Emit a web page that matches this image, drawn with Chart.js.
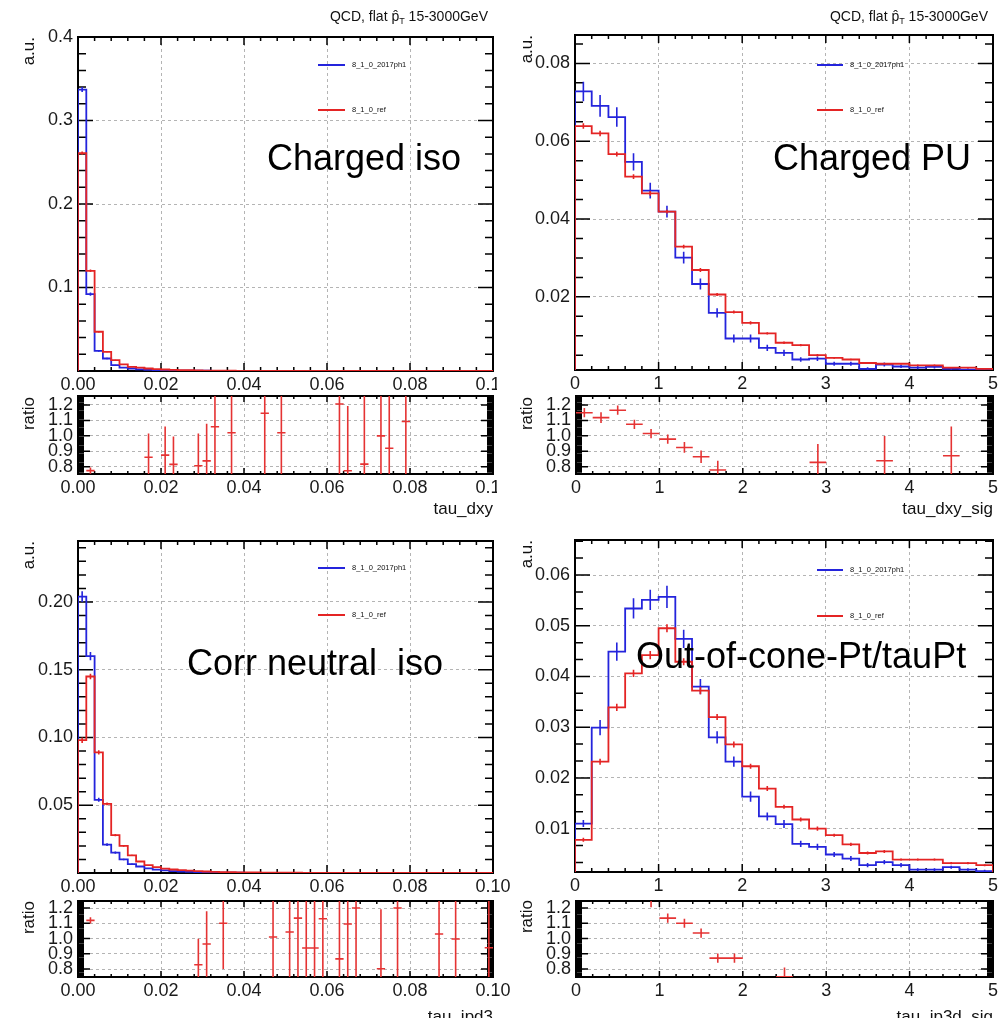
<!DOCTYPE html>
<html><head><meta charset="utf-8">
<script src="https://cdn.jsdelivr.net/npm/chart.js@4.4.1/dist/chart.umd.min.js"></script>
<style>
html,body{margin:0;padding:0;background:#fff;}
body{width:1000px;height:1018px;overflow:hidden;position:relative;font-family:"Liberation Sans",Arial,Helvetica,sans-serif;color:#111;}
canvas{position:absolute;z-index:1;}
.t{position:absolute;white-space:pre;line-height:1;z-index:2;}
.big{font-size:36px;color:#000;}
.qcd{font-size:14px;}
.qcd .sub{font-size:9px;position:relative;top:3px;}
.leg{font-size:7.5px;}
.ln{position:absolute;height:2px;z-index:2;}
.vt{position:absolute;writing-mode:vertical-rl;transform:rotate(180deg);font-size:17px;line-height:17px;z-index:2;white-space:pre;}
.xt{font-size:17px;}
</style></head><body>

<div class="t qcd" style="right:512px;top:9px">QCD, flat p&#770;<span class="sub">T</span> 15-3000GeV</div>
<div class="t qcd" style="right:12px;top:9px">QCD, flat p&#770;<span class="sub">T</span> 15-3000GeV</div>

<div class="t big" style="left:267px;top:140px">Charged iso</div>
<div class="t big" style="left:773px;top:140px">Charged PU</div>
<div class="t big" style="left:187px;top:645px">Corr neutral  iso</div>
<div class="t big" style="left:636px;top:638px">Out-of-cone-Pt/tauPt</div>

<div class="vt" style="left:20px;top:37px">a.u.</div>
<div class="vt" style="left:518px;top:35px">a.u.</div>
<div class="vt" style="left:20px;top:541px">a.u.</div>
<div class="vt" style="left:518px;top:540px">a.u.</div>
<div class="vt" style="left:20px;top:397px">ratio</div>
<div class="vt" style="left:518px;top:397px">ratio</div>
<div class="vt" style="left:20px;top:901px">ratio</div>
<div class="vt" style="left:518px;top:900px">ratio</div>

<div class="t xt" style="right:507px;top:500px">tau_dxy</div>
<div class="t xt" style="right:7px;top:500px">tau_dxy_sig</div>
<div class="t xt" style="right:507px;top:1008px">tau_ipd3</div>
<div class="t xt" style="right:7px;top:1008px">tau_ip3d_sig</div>

<script>
// ---------------- data ----------------
const seriesNames = ['8_1_0_2017ph1', '8_1_0_ref'];

// tau_dxy (Charged iso), bins of 0.002 from 0
const dxyStart = 0, dxyStep = 0.002;
const dxyBlue = [0.337,0.092,0.024,0.015,0.007,0.004,0.003,0.002,0.0015,0.0011,
  0.0008,0.0006,0.0005,0.0004,0.0003,0.0003,0.0002,0.0002,0.0002,0.0001,
  0.0001,0.0001,0.0001,0.0001,0.0001,0.00005,0.00005,0.00005,0.00005,0.00005,
  0.00004,0.00004,0.00004,0.00003,0.00003,0.00003,0.00003,0.00002,0.00002,0.00002,
  0.00002,0.00002,0.00002,0.00001,0.00001,0.00001,0.00001,0.00001,0.00001,0.00001];
const dxyRed = [0.261,0.120,0.047,0.023,0.013,0.008,0.005,0.004,0.003,0.0022,
  0.0018,0.0014,0.0011,0.0009,0.0007,0.0005,0.0004,0.0003,0.0003,0.0002,
  0.0002,0.0002,0.0001,0.0001,0.0001,0.0001,0.0001,0.0001,0.00008,0.00008,
  0.00007,0.00006,0.00006,0.00005,0.00005,0.00004,0.00004,0.00004,0.00003,0.00003,
  0.00003,0.00003,0.00002,0.00002,0.00002,0.00002,0.00002,0.00002,0.00002,0.00001];
const dxyBlueErr = [0.003,0.002,0.001,0.0008,0.0005,0.0004,0.0003];
const dxyRedErr = [0.002,0.0015,0.0008,0.0005,0.0004,0.0003];
const dxyRatioX = [0.001,0.003,0.017,0.021,0.023,0.029,0.031,0.033,0.037,0.045,0.049,0.063,0.065,0.069,0.073,0.075,0.079];
const dxyRatioY = [1.29,0.775,0.861,0.875,0.815,0.806,0.838,1.059,1.02,1.146,1.02,1.206,0.774,0.817,1.0,0.92,1.093];
const dxyRatioErr = [0.02,0.02,0.155,0.185,0.18,0.21,0.24,0.6,0.6,0.6,0.6,0.6,0.42,0.6,0.6,0.6,0.6];

// tau_dxy_sig (Charged PU), bins of 0.2 from 0
const sigStart = 0, sigStep = 0.2;
const sigBlue = [0.0728,0.0691,0.0662,0.0547,0.0473,0.0419,0.0301,0.0233,0.0159,0.0093,
  0.0093,0.0069,0.0056,0.0039,0.0041,0.0028,0.0028,0.0015,0.0026,0.0021,
  0.0018,0.0020,0.0015,0.0013,0.0013];
const sigRed = [0.0639,0.0620,0.0567,0.0509,0.0466,0.0419,0.0329,0.0269,0.0206,0.0161,
  0.0133,0.0106,0.0082,0.0076,0.0050,0.0043,0.0039,0.0030,0.0028,0.0028,
  0.0024,0.0024,0.0018,0.0018,0.0015];
const sigBlueErr = [0.0025,0.0028,0.0025,0.0022,0.002,0.0015,0.0015,0.0014,0.0012,0.001,
  0.001,0.0008,0.0008,0.0006,0.0006,0.0005,0.0005,0.0004,0.0005,0.0004,
  0.0004,0.0004,0.0003,0.0003,0.0003];
const sigRedErr = [0.0007,0.0007,0.0006,0.0006,0.0006,0.0005,0.0005,0.0005,0.0004,0.0004,
  0.0004,0.0003,0.0003,0.0003,0.0003,0.0002,0.0002,0.0002,0.0002,0.0002,
  0.0002,0.0002,0.0002,0.0002,0.0002];
const sigRatioX = [0.1,0.3,0.5,0.7,0.9,1.1,1.3,1.5,1.7,2.9,3.7,4.5];
const sigRatioY = [1.15,1.118,1.166,1.075,1.015,0.979,0.925,0.865,0.779,0.828,0.839,0.871];
const sigRatioErr = [0.03,0.035,0.03,0.03,0.03,0.03,0.035,0.04,0.06,0.12,0.16,0.19];

// tau_ipd3 (Corr neutral iso), bins of 0.002 from 0
const ipStart = 0, ipStep = 0.002;
const ipBlue = [0.204,0.160,0.054,0.021,0.015,0.010,0.0066,0.0048,0.0034,0.0025,
  0.0019,0.0014,0.0011,0.0008,0.0006,0.0005,0.0004,0.0003,0.0002,0.0002,
  0.00015,0.00012,0.0001,0.0001,0.00008,0.00006,0.00005,0.00005,0.00004,0.00004,
  0.00003,0.00003,0.00003,0.00002,0.00002,0.00002,0.00002,0.00002,0.00001,0.00001,
  0.00001,0.00001,0.00001,0.00001,0.00001,0.00001,0.00001,0.00001,0.00001,0.00001];
const ipRed = [0.098,0.145,0.089,0.051,0.028,0.020,0.013,0.0085,0.0058,0.0043,
  0.0033,0.0026,0.0021,0.0017,0.0014,0.0011,0.0009,0.0007,0.0006,0.0005,
  0.0004,0.0004,0.0003,0.0003,0.0002,0.0002,0.0002,0.00015,0.00012,0.0001,
  0.0001,0.00008,0.00007,0.00006,0.00005,0.00005,0.00004,0.00004,0.00003,0.00003,
  0.00003,0.00002,0.00002,0.00002,0.00002,0.00002,0.00001,0.00001,0.00001,0.00001];
const ipBlueErr = [0.004,0.003,0.0015,0.001,0.0008,0.0006,0.0005,0.0004];
const ipRedErr = [0.002,0.002,0.0015,0.001,0.0008,0.0006,0.0005,0.0004];
const ipRatioX = [0.003,0.029,0.031,0.035,0.047,0.051,0.053,0.055,0.057,0.059,0.063,0.065,0.067,0.073,0.077,0.087,0.091,0.099];
const ipRatioY = [1.119,0.828,0.964,1.10,1.01,1.043,1.134,0.938,0.938,1.13,0.867,1.095,1.2,0.802,1.2,1.03,0.997,0.94];
const ipRatioErr = [0.02,0.17,0.215,0.3,0.6,0.6,0.6,0.6,0.6,0.6,0.6,0.6,0.6,0.39,0.6,0.6,0.6,0.6];

// tau_ip3d_sig (Out-of-cone-Pt/tauPt), bins of 0.2 from 0
const ip3Start = 0, ip3Step = 0.2;
const ip3Blue = [0.0110,0.0299,0.0449,0.0534,0.0551,0.0557,0.0474,0.0380,0.0280,0.0232,
  0.0163,0.0124,0.0109,0.0070,0.0064,0.0049,0.0041,0.0028,0.0034,0.0028,
  0.0019,0.0019,0.0024,0.0019,0.0016];
const ip3Red = [0.0078,0.0232,0.0339,0.0406,0.0442,0.0495,0.0429,0.0372,0.0320,0.0266,
  0.0223,0.0179,0.0143,0.0118,0.0100,0.0087,0.0069,0.0052,0.0055,0.0039,
  0.0039,0.0039,0.0032,0.0032,0.0028];
const ip3BlueErr = [0.0007,0.0015,0.0018,0.002,0.002,0.0022,0.0018,0.0015,0.0012,0.001,
  0.001,0.0008,0.0008,0.0006,0.0006,0.0005,0.0005,0.0004,0.0004,0.0004,
  0.0003,0.0003,0.0003,0.0003,0.0003];
const ip3RedErr = [0.0004,0.0006,0.0007,0.0007,0.0008,0.0008,0.0007,0.0007,0.0006,0.0006,
  0.0005,0.0005,0.0004,0.0004,0.0004,0.0003,0.0003,0.0003,0.0003,0.0002,
  0.0002,0.0002,0.0002,0.0002,0.0002];
const ip3RatioX = [0.9,1.1,1.3,1.5,1.7,1.9,2.5];
const ip3RatioY = [1.26,1.134,1.10,1.036,0.872,0.872,0.75];
const ip3RatioErr = [0.055,0.03,0.03,0.03,0.03,0.03,0.06];

// tick values / labels
const dxyXTicks = [0,0.02,0.04,0.06,0.08,0.1];
const dxyXLabels = ['0.00','0.02','0.04','0.06','0.08','0.10'];
const sigXTicks = [0,1,2,3,4,5];
const sigXLabels = ['0','1','2','3','4','5'];
const dxyYTicks = [0.1,0.2,0.3,0.4];
const dxyYLabels = ['0.1','0.2','0.3','0.4'];
const sigYTicks = [0.02,0.04,0.06,0.08];
const sigYLabels = ['0.02','0.04','0.06','0.08'];
const ipYTicks = [0.05,0.10,0.15,0.20];
const ipYLabels = ['0.05','0.10','0.15','0.20'];
const ip3YTicks = [0.01,0.02,0.03,0.04,0.05,0.06];
const ip3YLabels = ['0.01','0.02','0.03','0.04','0.05','0.06'];
const ratioYTicks = [0.8,0.9,1.0,1.1,1.2];
const ratioYLabels = ['0.8','0.9','1.0','1.1','1.2'];

// ---------------- drawing ----------------
const BLUE = '#2424dc', RED = '#e42424', RATIO = '#e53333';

const rootFrame = {
  id: 'rootFrame',
  beforeDatasetsDraw(chart, args, o) {
    const {ctx, chartArea: a} = chart;
    const xs = chart.scales.x, ys = chart.scales.y;
    const marks = (scale, majors, sub) => {
      const step = (majors[1] - majors[0]) / sub, out = [];
      const k0 = Math.ceil((scale.min - majors[0]) / step - 1e-6);
      for (let k = k0; majors[0] + k * step <= scale.max + 1e-9; k++) {
        out.push({p: scale.getPixelForValue(majors[0] + k * step), major: ((k % sub) + sub) % sub === 0});
      }
      return out;
    };
    ctx.save();
    ctx.strokeStyle = '#000';
    ctx.lineWidth = o.tickWidth;
    ctx.beginPath();
    for (const m of marks(xs, o.xTicks, o.xSub)) {
      const L = m.major ? o.xMajor : o.xMinor;
      ctx.moveTo(m.p, a.bottom); ctx.lineTo(m.p, a.bottom - L);
      ctx.moveTo(m.p, a.top); ctx.lineTo(m.p, a.top + L);
    }
    for (const m of marks(ys, o.yTicks, o.ySub)) {
      const L = m.major ? o.yMajor : o.yMinor;
      ctx.moveTo(a.left, m.p); ctx.lineTo(a.left + L, m.p);
      ctx.moveTo(a.right, m.p); ctx.lineTo(a.right - L, m.p);
    }
    ctx.stroke();
    ctx.lineWidth = 2;
    ctx.strokeRect(a.left, a.top, a.right - a.left, a.bottom - a.top);
    ctx.restore();
  }
};

function histLine(start, step, vals, color, order) {
  const pts = [{x: start, y: 0}];
  vals.forEach((v, i) => pts.push({x: start + i * step, y: v}));
  pts.push({x: start + vals.length * step, y: vals[vals.length - 1]});
  pts.push({x: start + vals.length * step, y: 0});
  return {data: pts, borderColor: color, borderWidth: 1.8, pointRadius: 0, stepped: true, fill: false, order};
}
function errBars(start, step, vals, errs, color, order) {
  const pts = [];
  errs.forEach((e, i) => {
    if (!e) return;
    const c = start + (i + 0.5) * step;
    pts.push({x: c, y: vals[i] - e}, {x: c, y: vals[i] + e}, {x: c, y: null});
  });
  return {data: pts, borderColor: color, borderWidth: 1.6, pointRadius: 0, fill: false, spanGaps: false, order};
}
function ratioSet(xs, ys, es, step) {
  const pts = [];
  xs.forEach((c, i) => {
    pts.push({x: c - step / 2, y: ys[i]}, {x: c + step / 2, y: ys[i]}, {x: c, y: null},
             {x: c, y: ys[i] - es[i]}, {x: c, y: ys[i] + es[i]}, {x: c, y: null});
  });
  return {data: pts, borderColor: RATIO, borderWidth: 1.6, pointRadius: 0, fill: false, spanGaps: false};
}

function makeChart(p) {
  const cv = document.createElement('canvas');
  const W = p.right - p.left + p.padL + p.padR;
  const H = p.bottom - p.top + p.padT + p.padB;
  cv.width = W; cv.height = H;
  cv.style.left = (p.left - p.padL) + 'px';
  cv.style.top = (p.top - p.padT) + 'px';
  cv.style.width = W + 'px'; cv.style.height = H + 'px';
  document.body.appendChild(cv);
  const font = {family: '"Liberation Sans", Arial, sans-serif', size: p.fontSize || 18};
  new Chart(cv.getContext('2d'), {
    type: 'line',
    data: {datasets: p.datasets},
    plugins: [rootFrame],
    options: {
      responsive: false, animation: false, devicePixelRatio: 1,
      layout: {padding: {left: 0, top: p.padT, right: p.padR, bottom: 0}},
      events: [],
      plugins: {
        legend: {display: false}, tooltip: {enabled: false},
        rootFrame: {xTicks: p.xTicks, yTicks: p.yTicks, xSub: p.xSub, ySub: p.ySub,
          xMajor: p.xMajor, xMinor: p.xMinor, yMajor: p.yMajor, yMinor: p.yMinor, tickWidth: 1.5}
      },
      scales: {
        x: {
          type: 'linear', min: p.xMin, max: p.xMax, bounds: 'data',
          afterBuildTicks: s => { s.ticks = p.xTicks.map(v => ({value: v})); },
          afterFit: s => { s.height = p.padB; s.paddingLeft = 0; s.paddingRight = 0; s.paddingTop = 0; s.paddingBottom = 0; },
          ticks: {callback: (v, i) => p.xLabels[i], font, color: '#1a1a1a', padding: 3, maxRotation: 0, minRotation: 0, autoSkip: false},
          grid: {color: '#b4b4b4', lineWidth: 1, drawTicks: false},
          border: {display: false, dash: [3, 3]}
        },
        y: {
          type: 'linear', min: p.yMin, max: p.yMax, bounds: 'data',
          afterBuildTicks: s => { s.ticks = p.yTicks.map(v => ({value: v})); },
          afterFit: s => { s.width = p.padL; s.paddingTop = 0; s.paddingBottom = 0; s.paddingLeft = 0; s.paddingRight = 0; },
          ticks: {callback: (v, i) => p.yLabels[i], font, color: '#1a1a1a', padding: 5, autoSkip: false},
          grid: {color: '#b4b4b4', lineWidth: 1, drawTicks: false},
          border: {display: false, dash: [3, 3]}
        }
      }
    }
  });
}

function legend(x1, x2, tx, yB, yR) {
  [[yB, BLUE, seriesNames[0]], [yR, RED, seriesNames[1]]].forEach(([y, c, name]) => {
    const l = document.createElement('div');
    l.className = 'ln'; l.style.left = x1 + 'px'; l.style.width = (x2 - x1) + 'px';
    l.style.top = (y - 1) + 'px'; l.style.background = c;
    document.body.appendChild(l);
    const t = document.createElement('div');
    t.className = 't leg'; t.textContent = name;
    t.style.left = tx + 'px'; t.style.top = (y - 4) + 'px';
    document.body.appendChild(t);
  });
}

const mainTicks = {xMajor: 8, xMinor: 4, yMajor: 15, yMinor: 8, xSub: 5};
const ratioTicks = {xMajor: 6, xMinor: 3, yMajor: 12, yMinor: 6, xSub: 5, ySub: 10};

// Top-left: tau_dxy
makeChart(Object.assign({}, mainTicks, {
  left: 78, right: 493, top: 37, bottom: 371, padL: 70, padT: 12, padR: 4, padB: 30,
  xMin: 0, xMax: 0.1, yMin: 0, yMax: 0.4,
  xTicks: dxyXTicks, xLabels: dxyXLabels, yTicks: dxyYTicks, yLabels: dxyYLabels, ySub: 5,
  datasets: [histLine(dxyStart, dxyStep, dxyRed, RED, 0), errBars(dxyStart, dxyStep, dxyRed, dxyRedErr, RED, 1),
             histLine(dxyStart, dxyStep, dxyBlue, BLUE, 2), errBars(dxyStart, dxyStep, dxyBlue, dxyBlueErr, BLUE, 3)]
}));
makeChart(Object.assign({}, ratioTicks, {
  left: 78, right: 493, top: 396, bottom: 474, padL: 70, padT: 12, padR: 4, padB: 28,
  xMin: 0, xMax: 0.1, yMin: 0.753, yMax: 1.258,
  xTicks: dxyXTicks, xLabels: dxyXLabels, yTicks: ratioYTicks, yLabels: ratioYLabels,
  datasets: [ratioSet(dxyRatioX, dxyRatioY, dxyRatioErr, dxyStep)]
}));

// Top-right: tau_dxy_sig
makeChart(Object.assign({}, mainTicks, {
  left: 575, right: 993, top: 35, bottom: 370, padL: 70, padT: 12, padR: 7, padB: 30,
  xMin: 0, xMax: 5, yMin: 0.0012, yMax: 0.0873,
  xTicks: sigXTicks, xLabels: sigXLabels, yTicks: sigYTicks, yLabels: sigYLabels, ySub: 4,
  datasets: [histLine(sigStart, sigStep, sigRed, RED, 0), errBars(sigStart, sigStep, sigRed, sigRedErr, RED, 1),
             histLine(sigStart, sigStep, sigBlue, BLUE, 2), errBars(sigStart, sigStep, sigBlue, sigBlueErr, BLUE, 3)]
}));
makeChart(Object.assign({}, ratioTicks, {
  left: 576, right: 993, top: 396, bottom: 474, padL: 70, padT: 12, padR: 7, padB: 28,
  xMin: 0, xMax: 5, yMin: 0.753, yMax: 1.258,
  xTicks: sigXTicks, xLabels: sigXLabels, yTicks: ratioYTicks, yLabels: ratioYLabels,
  datasets: [ratioSet(sigRatioX, sigRatioY, sigRatioErr, sigStep)]
}));

// Bottom-left: tau_ipd3
makeChart(Object.assign({}, mainTicks, {
  left: 78, right: 493, top: 541, bottom: 873, padL: 70, padT: 12, padR: 25, padB: 28,
  xMin: 0, xMax: 0.1, yMin: 0, yMax: 0.245,
  xTicks: dxyXTicks, xLabels: dxyXLabels, yTicks: ipYTicks, yLabels: ipYLabels, ySub: 5,
  datasets: [histLine(ipStart, ipStep, ipRed, RED, 0), errBars(ipStart, ipStep, ipRed, ipRedErr, RED, 1),
             histLine(ipStart, ipStep, ipBlue, BLUE, 2), errBars(ipStart, ipStep, ipBlue, ipBlueErr, BLUE, 3)]
}));
makeChart(Object.assign({}, ratioTicks, {
  left: 78, right: 493, top: 901, bottom: 977, padL: 70, padT: 12, padR: 25, padB: 28,
  xMin: 0, xMax: 0.1, yMin: 0.748, yMax: 1.246,
  xTicks: dxyXTicks, xLabels: dxyXLabels, yTicks: ratioYTicks, yLabels: ratioYLabels,
  datasets: [ratioSet(ipRatioX, ipRatioY, ipRatioErr, ipStep)]
}));

// Bottom-right: tau_ip3d_sig
makeChart(Object.assign({}, mainTicks, {
  left: 575, right: 993, top: 540, bottom: 872, padL: 70, padT: 12, padR: 7, padB: 28,
  xMin: 0, xMax: 5, yMin: 0.00145, yMax: 0.0669,
  xTicks: sigXTicks, xLabels: sigXLabels, yTicks: ip3YTicks, yLabels: ip3YLabels, ySub: 3,
  datasets: [histLine(ip3Start, ip3Step, ip3Red, RED, 0), errBars(ip3Start, ip3Step, ip3Red, ip3RedErr, RED, 1),
             histLine(ip3Start, ip3Step, ip3Blue, BLUE, 2), errBars(ip3Start, ip3Step, ip3Blue, ip3BlueErr, BLUE, 3)]
}));
makeChart(Object.assign({}, ratioTicks, {
  left: 576, right: 993, top: 901, bottom: 977, padL: 70, padT: 12, padR: 7, padB: 28,
  xMin: 0, xMax: 5, yMin: 0.748, yMax: 1.246,
  xTicks: sigXTicks, xLabels: sigXLabels, yTicks: ratioYTicks, yLabels: ratioYLabels,
  datasets: [ratioSet(ip3RatioX, ip3RatioY, ip3RatioErr, ip3Step)]
}));

legend(318, 345, 352, 65, 110);
legend(817, 843, 850, 65, 110);
legend(318, 345, 352, 568, 615);
legend(817, 843, 850, 570, 616);
</script>
</body></html>
